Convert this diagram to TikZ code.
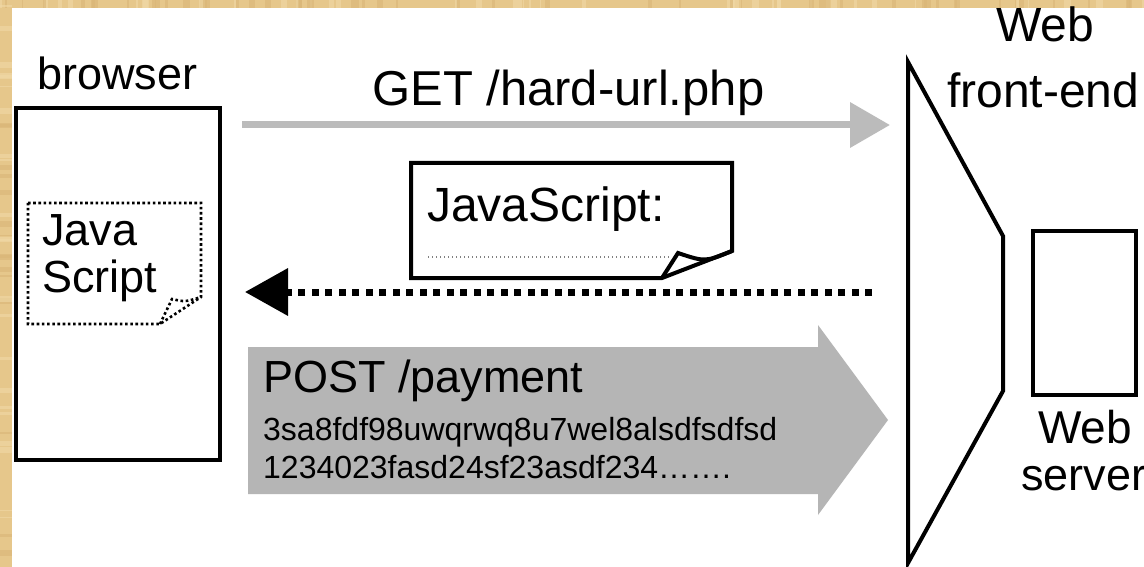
\documentclass[tikz,border=0pt]{standalone}
\usepackage{fontspec}
\setmainfont{Liberation Sans}
\usetikzlibrary{arrows.meta}
\definecolor{parch}{HTML}{E6C78B}
\definecolor{parchdark}{HTML}{D9B677}
\definecolor{parchlight}{HTML}{F0D9A6}
\definecolor{arrowgray}{HTML}{BBBBBB}
\definecolor{postgray}{HTML}{B5B5B5}
\begin{document}
\begin{tikzpicture}[x=1pt,y=-1pt,
  lbl/.style={inner sep=0pt, anchor=base west, font=\fontsize{45}{54}\selectfont},
  lblc/.style={inner sep=0pt, anchor=base, font=\fontsize{47}{56}\selectfont},
  box/.style={draw, line width=4pt, inner sep=0pt, anchor=north west},
  thick outline/.style={line width=4pt, line join=miter},
  dotty/.style={line width=2.6pt, dash pattern=on 2.6pt off 2.6pt},
]
\useasboundingbox (0,0) rectangle (1144,567);
% background parchment
\fill[parch] (0,0) rectangle (1144,567);
\pgfmathsetseed{7}
\foreach \i in {1,...,90}{
  \pgfmathsetmacro{\xx}{rnd*1144}
  \pgfmathsetmacro{\ww}{1+rnd*6}
  \pgfmathsetmacro{\cc}{rnd}
  \ifdim\cc pt<0.5pt
    \fill[parchdark, opacity=0.6] (\xx,0) rectangle ++(\ww,8);
  \else
    \fill[parchlight, opacity=0.6] (\xx,0) rectangle ++(\ww,8);
  \fi
}
\foreach \i in {1,...,40}{
  \pgfmathsetmacro{\yy}{rnd*567}
  \pgfmathsetmacro{\hh}{1+rnd*5}
  \pgfmathsetmacro{\cc}{rnd}
  \ifdim\cc pt<0.5pt
    \fill[parchdark, opacity=0.6] (0,\yy) rectangle ++(12,\hh);
  \else
    \fill[parchlight, opacity=0.6] (0,\yy) rectangle ++(12,\hh);
  \fi
}
\fill[white] (12,8) rectangle (1144,567);

% browser
\node[box, minimum width=204pt, minimum height=352pt] (browser) at (14,106) {};
\node[lbl] (browserlbl) at (37,90) {browser};

% dotted JavaScript note inside browser
\draw[dotty] (28,203) -- (201,203) -- (201,297) -- (160,324) -- (28,324) -- cycle;
\draw[dotty] (160,324) -- (172,299) .. controls (185,302) .. (201,297);
\node[lbl] (java) at (42,245) {Java};
\node[lbl] (script) at (42,292) {Script};

% GET request
\node[lbl, font=\fontsize{49}{58}\selectfont] (get) at (372,106) {GET /hard-url.php};
\coordinate (getS) at (242,125);
\coordinate (getE) at (890,125);
\draw[arrowgray, line width=7pt, -{Triangle[length=40pt,width=44pt]}] (getS) -- (getE);

% JavaScript note
\draw[thick outline] (411,163) -- (732,163) -- (732,251) -- (662,278) -- (411,278) -- cycle;
\draw[thick outline] (662,278) -- (678,253) .. controls (705,262) .. (732,251);
\node[lbl, font=\fontsize{48}{58}\selectfont] (jstext) at (427,222) {JavaScript:};
\coordinate (jsdA) at (428,257);
\coordinate (jsdB) at (670,257);
\draw[gray, line width=1.2pt, dash pattern=on 1.2pt off 2.8pt] (jsdA) -- (jsdB);

% dotted response arrow
\coordinate (dotS) at (872,292);
\coordinate (dotE) at (245,292);
\draw[line width=7pt, dash pattern=on 7pt off 6.5pt, -{Triangle[length=43pt,width=46pt]}] (dotS) -- (dotE);

% POST arrow
\fill[postgray] (248,347) -- (818,347) -- (818,325) -- (888,420) -- (818,515) -- (818,494) -- (248,494) -- cycle;
\node[lbl] (post) at (263,392) {POST /payment};
\node[lbl, font=\fontsize{32}{38}\selectfont] (postA) at (263,440) {3sa8fdf98uwqrwq8u7wel8alsdfsdfsd};
\node[lbl, font=\fontsize{32}{38}\selectfont] (postB) at (263,478) {1234023fasd24sf23asdf234…….};

% web front-end
\draw[thick outline] (908,62) -- (1003,236) -- (1003,391) -- (908,563) -- cycle;
\node[lblc, font=\fontsize{48}{58}\selectfont] (webA) at (1045,42) {Web};
\node[lbl, font=\fontsize{48}{58}\selectfont] (frontend) at (947,108) {front-end};

% web server
\node[box, minimum width=103pt, minimum height=164pt] (server) at (1031,229) {};
\node[lblc, font=\fontsize{46}{56}\selectfont] (webB) at (1085,443) {Web};
\node[lbl] (serverlbl) at (1021,490) {server};
\end{tikzpicture}
\end{document}
